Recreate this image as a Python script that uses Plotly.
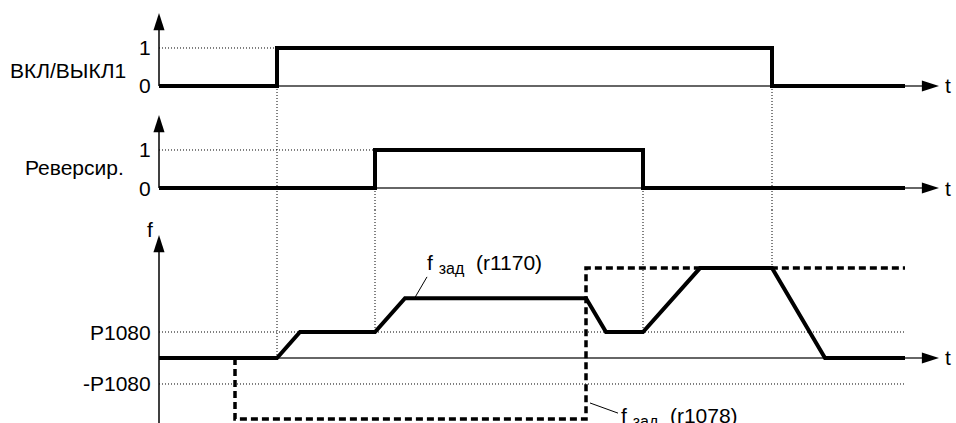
import plotly.graph_objects as go

# time axis in arbitrary units, 0 = y axes
t_end = 74.6
t_tip = 78.0

# ON/OFF1
on_t = [0, 11.8, 11.8, 61.3, 61.3, t_end]
on_v = [0, 0, 1, 1, 0, 0]

# Reverse
rev_t = [0, 21.6, 21.6, 48.4, 48.4, t_end]
rev_v = [0, 0, 1, 1, 0, 0]

# f set after ramp (r1170)
f_t = [0, 11.8, 14.1, 21.6, 24.6, 42.7, 44.7, 48.4, 54.1, 61.3, 66.6, t_end]
f_v = [0, 0, 1, 1, 2.3, 2.3, 1, 1, 3.46, 3.46, 0, 0]

# f set before ramp (r1078)
fs_t = [7.6, 7.6, 42.7, 42.7, t_end]
fs_v = [0, -2.35, -2.35, 3.46, 3.46]

p1080 = 1.0

# y ranges of the three panels
r1 = [-0.5, 2.263]
r2 = [-0.579, 2.184]
r3 = [-2.5, 5.692]
tips = [1.92, 1.92, 4.73]

FONT = "Liberation Sans, Arial, sans-serif"
DOT = "1px,2px"

fig = go.Figure()


def seg(x, y, ax, color="black", width=1, dash=None):
    fig.add_trace(go.Scatter(x=x, y=y, xaxis="x", yaxis=ax, mode="lines",
                             line=dict(color=color, width=width, dash=dash),
                             hoverinfo="skip"))


def arrow(x, y, ax, angle):
    fig.add_trace(go.Scatter(x=[x], y=[y], xaxis="x", yaxis=ax, mode="markers",
                             marker=dict(symbol="arrow", angle=angle, size=18, color="black",
                                         line=dict(width=0)),
                             cliponaxis=False, hoverinfo="skip"))


# dotted guides
seg([0, on_t[2]], [1, 1], "y", dash=DOT)
seg([0, rev_t[2]], [1, 1], "y2", dash=DOT)
seg([0, t_end], [p1080, p1080], "y3", dash=DOT)
seg([0, t_end], [-p1080, -p1080], "y3", dash=DOT)

# vertical dotted links between panels
seg([on_t[1]] * 2, [0, r1[0]], "y", dash=DOT)
seg([on_t[1]] * 2, r2, "y2", dash=DOT)
seg([on_t[1]] * 2, [r3[1], 0], "y3", dash=DOT)
for tt in [rev_t[1], rev_t[3]]:
    seg([tt] * 2, [0, r2[0]], "y2", dash=DOT)
    seg([tt] * 2, [r3[1], p1080], "y3", dash=DOT)
seg([on_t[3]] * 2, [0, r1[0]], "y", dash=DOT)
seg([on_t[3]] * 2, r2, "y2", dash=DOT)
seg([on_t[3]] * 2, [r3[1], f_v[9]], "y3", dash=DOT)

# axes
for ax, rng, tip in [("y", r1, tips[0]), ("y2", r2, tips[1]), ("y3", r3, tips[2])]:
    seg([0, t_tip - 1], [0, 0], ax, color="#333", width=1.3)
    arrow(t_tip, 0, ax, 90)
    ybot = rng[0] if ax == "y3" else 0
    seg([0, 0], [ybot, tip - 1 / 4], ax, color="black", width=1.5)
    arrow(0, tip, ax, 0)

# signals
seg(on_t, on_v, "y", width=4)
seg(rev_t, rev_v, "y2", width=4)
seg(fs_t, fs_v, "y3", width=3.5, dash="7px,4px")
seg(f_t, f_v, "y3", width=4)

# leader lines
seg([26.8, 25.6], [3.12, 2.33], "y3", width=1)
seg([43.1, 45.9], [-1.73, -2.12], "y3", width=1)

ann = []


def label(x, y, ax, text, xanchor="right", size=21):
    ann.append(dict(x=x, y=y, xref="x", yref=ax, text=text, showarrow=False,
                    xanchor=xanchor, yanchor="middle",
                    font=dict(family=FONT, size=size, color="black")))


SUB = "f <sub><span style='font-size:16px'>зад</span></sub>  "

label(-3.1, 0.42, "y", "ВКЛ/ВЫКЛ1")
label(-3.3, 0.53, "y2", "Реверсир.")
label(-0.6, 1, "y", "1")
label(-0.6, 0, "y", "0")
label(-0.6, 1, "y2", "1")
label(-0.6, 0, "y2", "0")
label(-0.6, p1080, "y3", "P1080")
label(-0.6, -p1080, "y3", "-P1080")
label(-0.4, 4.96, "y3", "f")
for ax in ["y", "y2", "y3"]:
    label(t_tip + 0.4, 0, ax, "t", xanchor="left")
label(26.6, 3.6, "y3", SUB + "(r1170)", xanchor="left")
label(46.0, -2.27, "y3", SUB + "(r1078)", xanchor="left")

fig.update_layout(
    width=956, height=423,
    margin=dict(l=0, r=0, t=0, b=0),
    paper_bgcolor="white", plot_bgcolor="white",
    showlegend=False,
    annotations=ann,
    xaxis=dict(range=[-15.9, 79.7], domain=[0, 1], visible=False),
    yaxis=dict(range=r1, domain=[0.7518, 1], visible=False),
    yaxis2=dict(range=r2, domain=[0.5035, 0.7518], visible=False),
    yaxis3=dict(range=r3, domain=[0, 0.5035], visible=False),
)

# page default margin would shift the figure by 8px
fig.write_html("out.html", config={"displayModeBar": False},
               post_script="document.body.style.margin='0';")
